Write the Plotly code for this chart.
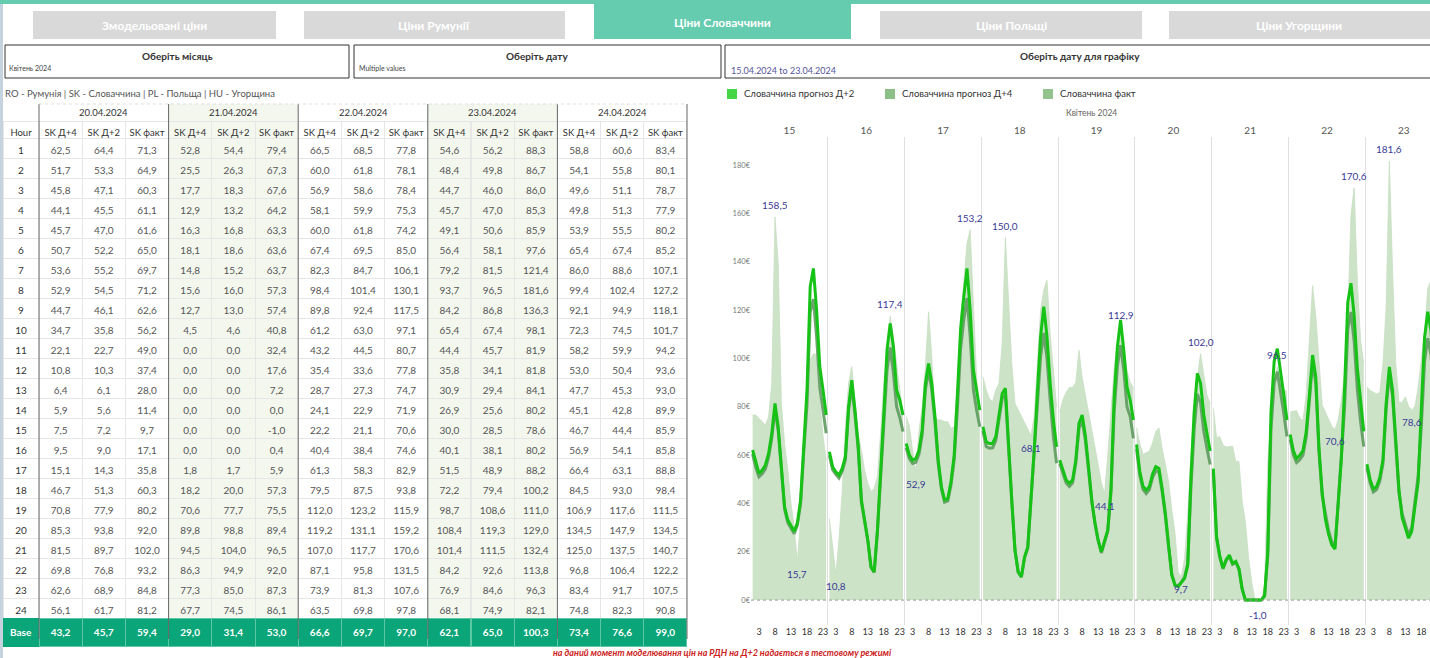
import plotly.graph_objects as go

W, H = 1430, 658
FONT = "Lato, 'Noto Sans', sans-serif"

# ---------------- data ----------------
chart_days = [15, 16, 17, 18, 19, 20, 21, 22, 23]
hours = list(range(1, 25))
x_tick_hours = [3, 8, 13, 18, 23]
y_ticks = [0, 20, 40, 60, 80, 100, 120, 140, 160, 180]

d2_15 = [62.1, 56.6, 52.4, 53.8, 55.9, 60.7, 69.0, 81.4, 71.7, 55.0, 38.6, 33.1, 30.5, 28.5, 32.0, 41.4, 64.0, 87.0, 129.7, 137.2, 120.0, 96.6, 86.9, 76.6]
d4_15 = [60.5, 54.8, 51.0, 52.3, 54.3, 59.0, 67.0, 79.0, 70.0, 53.5, 37.5, 32.0, 29.5, 27.5, 31.0, 40.0, 61.5, 81.0, 119.0, 124.5, 109.0, 88.0, 78.5, 69.0]
fact_15 = [76.6, 76.6, 75.2, 73.8, 72.4, 75.9, 89.7, 158.5, 139.3, 81.4, 64.8, 53.8, 40.0, 30.3, 15.7, 34.5, 53.8, 78.6, 99.3, 102.0, 101.4, 82.0, 68.0, 58.0]

d2_16 = [61.4, 55.2, 53.1, 51.7, 54.5, 59.3, 80.0, 91.0, 78.6, 64.0, 41.4, 33.1, 25.0, 13.8, 11.7, 28.5, 51.5, 77.0, 103.4, 114.5, 104.8, 86.9, 82.8, 76.6]
d4_16 = [60.0, 54.0, 52.0, 50.5, 53.3, 58.0, 78.5, 88.5, 76.5, 62.5, 40.5, 32.5, 24.5, 13.5, 11.5, 28.0, 50.0, 73.0, 95.0, 104.5, 94.0, 80.0, 75.5, 69.7]
fact_16 = [33.8, 23.4, 10.8, 25.0, 45.0, 72.0, 89.7, 96.6, 82.8, 69.0, 62.0, 53.8, 48.3, 44.8, 46.2, 51.0, 69.0, 89.7, 103.4, 117.4, 109.0, 96.6, 86.9, 77.2]

d2_17 = [64.8, 60.0, 57.9, 58.6, 62.0, 70.3, 89.7, 97.9, 89.7, 75.9, 58.0, 47.0, 41.5, 42.0, 49.0, 60.0, 85.0, 112.0, 125.5, 137.2, 120.0, 95.2, 86.9, 78.6]
d4_17 = [63.0, 58.5, 56.5, 57.0, 60.3, 68.5, 87.0, 95.0, 87.0, 73.5, 56.5, 46.0, 40.5, 41.0, 47.5, 58.0, 79.0, 104.0, 116.0, 125.0, 109.0, 87.0, 78.6, 71.7]
fact_17 = [76.0, 72.0, 62.0, 52.9, 70.0, 80.0, 96.6, 119.3, 100.7, 75.9, 74.5, 74.5, 73.8, 73.8, 71.0, 71.7, 89.7, 117.0, 131.0, 147.6, 153.2, 124.0, 92.4, 75.9]

d2_18 = [71.7, 65.5, 64.8, 64.8, 67.6, 75.9, 85.5, 87.6, 62.0, 41.4, 20.7, 11.7, 9.7, 17.9, 22.0, 41.4, 62.0, 86.0, 109.0, 121.4, 109.0, 89.7, 74.5, 63.4]
d4_18 = [70.0, 63.5, 62.8, 63.0, 66.0, 74.0, 83.5, 85.0, 60.5, 40.5, 20.5, 11.5, 9.5, 17.5, 21.5, 40.5, 60.0, 80.0, 100.7, 110.5, 100.0, 82.8, 67.6, 56.6]
fact_18 = [92.4, 86.9, 83.4, 82.0, 86.9, 89.7, 106.2, 150.0, 124.0, 97.9, 81.4, 78.6, 75.9, 73.1, 70.3, 68.1, 75.9, 96.6, 120.0, 128.3, 132.4, 110.3, 95.0, 80.0]

d2_19 = [57.9, 53.8, 49.7, 48.3, 49.7, 57.9, 73.1, 76.6, 68.0, 55.0, 41.4, 32.0, 24.8, 20.0, 24.8, 29.0, 46.0, 84.0, 104.8, 115.9, 103.4, 88.3, 82.8, 74.5]
d4_19 = [56.5, 52.5, 48.5, 47.0, 48.5, 56.5, 71.0, 74.5, 66.0, 53.5, 40.5, 31.5, 24.5, 19.5, 24.0, 28.5, 44.5, 78.0, 96.6, 105.5, 95.0, 80.0, 75.9, 66.9]
fact_19 = [78.0, 83.0, 86.0, 88.0, 88.0, 90.0, 103.4, 92.0, 84.8, 78.0, 70.0, 63.0, 56.0, 48.5, 44.1, 60.0, 80.0, 96.0, 106.0, 112.9, 104.0, 95.0, 90.0, 88.0]

d4_20 = [62.5, 51.7, 45.8, 44.1, 45.7, 50.7, 53.6, 52.9, 44.7, 34.7, 22.1, 10.8, 6.4, 5.9, 7.5, 9.5, 15.1, 46.7, 70.8, 85.3, 81.5, 69.8, 62.6, 56.1]
d2_20 = [64.4, 53.3, 47.1, 45.5, 47.0, 52.2, 55.2, 54.5, 46.1, 35.8, 22.7, 10.3, 6.1, 5.6, 7.2, 9.0, 14.3, 51.3, 77.9, 93.8, 89.7, 76.8, 68.9, 61.7]
fact_20 = [71.3, 64.9, 60.3, 61.1, 61.6, 65.0, 69.7, 71.2, 62.6, 56.2, 49.0, 37.4, 28.0, 11.4, 9.7, 17.1, 35.8, 60.3, 80.2, 92.0, 102.0, 93.2, 84.8, 81.2]
base_20 = [43.2, 45.7, 59.4]

d4_21 = [52.8, 25.5, 17.7, 12.9, 16.3, 18.1, 14.8, 15.6, 12.7, 4.5, 0.0, 0.0, 0.0, 0.0, 0.0, 0.0, 1.8, 18.2, 70.6, 89.8, 94.5, 86.3, 77.3, 67.7]
d2_21 = [54.4, 26.3, 18.3, 13.2, 16.8, 18.6, 15.2, 16.0, 13.0, 4.6, 0.0, 0.0, 0.0, 0.0, 0.0, 0.0, 1.7, 20.0, 77.7, 98.8, 104.0, 94.9, 85.0, 74.5]
fact_21 = [79.4, 67.3, 67.6, 64.2, 63.3, 63.6, 63.7, 57.3, 57.4, 40.8, 32.4, 17.6, 7.2, 0.0, -1.0, 0.4, 5.9, 57.3, 75.5, 89.4, 96.5, 92.0, 87.3, 86.1]
base_21 = [29.0, 31.4, 53.0]

d4_22 = [66.5, 60.0, 56.9, 58.1, 60.0, 67.4, 82.3, 98.4, 89.8, 61.2, 43.2, 35.4, 28.7, 24.1, 22.2, 40.4, 61.3, 79.5, 112.0, 119.2, 107.0, 87.1, 73.9, 63.5]
d2_22 = [68.5, 61.8, 58.6, 59.9, 61.8, 69.5, 84.7, 101.4, 92.4, 63.0, 44.5, 33.6, 27.3, 22.9, 21.1, 38.4, 58.3, 87.5, 123.2, 131.1, 117.7, 95.8, 81.3, 69.8]
fact_22 = [77.8, 78.1, 78.4, 75.3, 74.2, 85.0, 106.1, 130.1, 117.5, 97.1, 80.7, 77.8, 74.7, 71.9, 70.6, 74.6, 82.9, 93.8, 115.9, 159.2, 170.6, 131.5, 107.6, 97.8]
base_22 = [66.6, 69.7, 97.0]

d4_23 = [54.6, 48.4, 44.7, 45.7, 49.1, 56.4, 79.2, 93.7, 84.2, 65.4, 44.4, 35.8, 30.9, 26.9, 30.0, 40.1, 51.5, 72.2, 98.7, 108.4, 101.4, 84.2, 76.9, 68.1]
d2_23 = [56.2, 49.8, 46.0, 47.0, 50.6, 58.1, 81.5, 96.5, 86.8, 67.4, 45.7, 34.1, 29.4, 25.6, 28.5, 38.1, 48.9, 79.4, 108.6, 119.3, 111.5, 92.6, 84.6, 74.9]
fact_23 = [88.3, 86.7, 86.0, 85.3, 85.9, 97.6, 121.4, 181.6, 136.3, 98.1, 81.9, 81.8, 84.1, 80.2, 78.6, 80.2, 88.2, 100.2, 111.0, 129.0, 132.4, 113.8, 96.3, 82.1]
base_23 = [62.1, 65.0, 100.3]

d4_24 = [58.8, 54.1, 49.6, 49.8, 53.9, 65.4, 86.0, 99.4, 92.1, 72.3, 58.2, 53.0, 47.7, 45.1, 46.7, 56.9, 66.4, 84.5, 106.9, 134.5, 125.0, 96.8, 83.4, 74.8]
d2_24 = [60.6, 55.8, 51.1, 51.3, 55.5, 67.4, 88.6, 102.4, 94.9, 74.5, 59.9, 50.4, 45.3, 42.8, 44.4, 54.1, 63.1, 93.0, 117.6, 147.9, 137.5, 106.4, 91.7, 82.3]
fact_24 = [83.4, 80.1, 78.7, 77.9, 80.2, 85.2, 107.1, 127.2, 118.1, 101.7, 94.2, 93.6, 93.0, 89.9, 85.9, 85.8, 88.8, 98.4, 111.5, 134.5, 140.7, 122.2, 107.5, 90.8]
base_24 = [73.4, 76.6, 99.0]

table_dates = ["20.04.2024", "21.04.2024", "22.04.2024", "23.04.2024", "24.04.2024"]
col_names = ["SK Д+4", "SK Д+2", "SK факт"]

tab_labels = ["Змодельовані ціни", "Ціни Румунії", "Ціни Словаччини", "Ціни Польщі", "Ціни Угорщини"]
legend_labels = ["Словаччина прогноз Д+2", "Словаччина прогноз Д+4", "Словаччина факт"]

# ---------------- helpers ----------------
C_D2 = "#16c216"
C_D4 = "#5f9c5f"
C_FACT = "#cde3c8"
C_LABEL = "#3a3a96"
C_TEAL = "#66ccb0"


def fmt(v):
    return f"{v:.1f}".replace(".", ",")


def px(x):
    return x / W


def py(y):
    return 1 - y / H


shapes = []
annotations = []


def rect(x0, y0, x1, y1, fill=None, line=None, lw=1):
    shapes.append(dict(type="rect", xref="paper", yref="paper",
                       x0=px(x0), x1=px(x1), y0=py(y1), y1=py(y0),
                       fillcolor=fill or "rgba(0,0,0,0)",
                       line=dict(color=line or "rgba(0,0,0,0)", width=lw if line else 0)))


def vline(x, y0, y1, color, lw=1):
    shapes.append(dict(type="line", xref="paper", yref="paper",
                       x0=px(x), x1=px(x), y0=py(y1), y1=py(y0),
                       line=dict(color=color, width=lw)))


def text(x, y, s, size=10, color="#333", xanchor="center", family=FONT):
    annotations.append(dict(xref="paper", yref="paper", x=px(x), y=py(y), text=s,
                            showarrow=False, xanchor=xanchor, yanchor="middle",
                            font=dict(size=size, color=color, family=family)))


fig = go.Figure()

# ---------------- chart ----------------
d2_by_day = [d2_15, d2_16, d2_17, d2_18, d2_19, d2_20, d2_21, d2_22, d2_23]
d4_by_day = [d4_15, d4_16, d4_17, d4_18, d4_19, d4_20, d4_21, d4_22, d4_23]
fact_by_day = [fact_15, fact_16, fact_17, fact_18, fact_19, fact_20, fact_21, fact_22, fact_23]

for i in range(len(chart_days)):
    xd = [i * 24 + h for h in hours]
    fig.add_trace(go.Scatter(x=xd, y=fact_by_day[i], mode="lines", fill="tozeroy",
                             fillcolor=C_FACT, line=dict(color="#c6dec1", width=0.8),
                             name=legend_labels[2], showlegend=False, hoverinfo="skip"))

xs, y2, y4 = [], [], []
for i in range(len(chart_days)):
    xs += [i * 24 + h for h in hours] + [None]
    y2 += d2_by_day[i] + [None]
    y4 += d4_by_day[i] + [None]

fig.add_trace(go.Scatter(x=xs, y=y4, mode="lines", line=dict(color=C_D4, width=3),
                         opacity=0.9, connectgaps=False, name=legend_labels[1],
                         showlegend=False, hoverinfo="skip"))
fig.add_trace(go.Scatter(x=xs, y=y2, mode="lines", line=dict(color=C_D2, width=3),
                         connectgaps=False, name=legend_labels[0], showlegend=False,
                         hoverinfo="skip"))
fig.add_trace(go.Scatter(x=[0.5], y=[None], xaxis="x2", showlegend=False, hoverinfo="skip"))

for i, f in enumerate(fact_by_day):
    imax = max(range(24), key=lambda k: f[k])
    imin = min(range(24), key=lambda k: f[k])
    for idx, shift in ((imax, 12), (imin, -12)):
        annotations.append(dict(xref="x", yref="y", x=i * 24 + hours[idx], y=f[idx],
                                text=fmt(f[idx]), showarrow=False, yshift=shift,
                                font=dict(size=10, color=C_LABEL, family=FONT)))

shapes.append(dict(type="line", xref="x domain", yref="y", x0=0, x1=1, y0=0, y1=0,
                   line=dict(color="#999999", width=1, dash="dot")))

# ---------------- table ----------------
groups = [
    (d4_20, d2_20, fact_20, base_20),
    (d4_21, d2_21, fact_21, base_21),
    (d4_22, d2_22, fact_22, base_22),
    (d4_23, d2_23, fact_23, base_23),
    (d4_24, d2_24, fact_24, base_24),
]
group_fill = ["#ffffff", "#f3f7ee", "#ffffff", "#f3f7ee", "#ffffff"]
BASE_GREEN = "#0aa578"
NB = "\u00a0"

hdr_vals = [["", "Hour"]]
cell_vals = [[str(h) for h in hours] + ["<b>Base</b>"]]
hdr_fill = [["#ffffff", "#ffffff"]]
cell_fill = [["#ffffff"] * 24 + [BASE_GREEN]]
cell_font = [["#333333"] * 24 + ["#ffffff"]]
cell_line = [["#e6e6e6"] * 24 + [BASE_GREEN]]
hdr_line = [["#ffffff", "#e6e6e6"]]
for g, (a, b, c, base) in enumerate(groups):
    for k, series in enumerate((a, b, c)):
        hdr_vals.append(["", col_names[k].replace(" ", NB)])
        cell_vals.append([fmt(v) for v in series] + [f"<b>{fmt(base[k])}</b>"])
        hdr_fill.append([group_fill[g]] * 2)
        cell_fill.append([group_fill[g]] * 24 + [BASE_GREEN])
        cell_font.append(["#555555"] * 24 + ["#ffffff"])
        cell_line.append(["#e6e6e6"] * 24 + ["#5cc7a3"])
        hdr_line.append([group_fill[g], "#e6e6e6"])

TBL_X0, TBL_X1, HOUR_W = 3, 687, 36
TBL_TOP = 104
TBL_BOTTOM = 639
col_w = (TBL_X1 - TBL_X0 - HOUR_W) / 15
fig.add_trace(go.Table(
    domain=dict(x=[px(TBL_X0), px(TBL_X1)], y=[0, py(TBL_TOP)]),
    columnwidth=[HOUR_W] + [col_w] * 15,
    header=dict(values=hdr_vals, height=17, align="center",
                fill=dict(color=hdr_fill), line=dict(color=hdr_line, width=1),
                font=dict(size=9.5, color="#333333", family=FONT)),
    cells=dict(values=cell_vals, height=20, align="center",
               fill=dict(color=cell_fill), line=dict(color=cell_line, width=1),
               font=dict(size=10, color=cell_font, family=FONT)),
))

# merged date headers and group separators of the table
for g, d in enumerate(table_dates):
    text(TBL_X0 + HOUR_W + (g + 0.5) * 3 * col_w, 112.5, d, size=9.5, color="#333")
for g in range(6):
    vline(TBL_X0 + HOUR_W + g * 3 * col_w, TBL_TOP, TBL_BOTTOM, "#666666", 1)
shapes.append(dict(type="line", xref="paper", yref="paper", x0=px(TBL_X0 + HOUR_W), x1=px(TBL_X1),
                   y0=py(TBL_TOP), y1=py(TBL_TOP), line=dict(color="#dddddd", width=1, dash="dot")))

# ---------------- page furniture ----------------
rect(0, 0, 3, 658, fill="#c5d3df")
rect(0, 0, W + 2, 4, fill=C_TEAL)
tab_boxes = [(33, 11, 276, 39), (304, 11, 565, 39), (594, 0, 851, 39), (880, 11, 1142, 39), (1169, 11, 1432, 39)]
for i, (x0, y0, x1, y1) in enumerate(tab_boxes):
    active = i == 2
    rect(x0, y0, x1, y1, fill=C_TEAL if active else "#d9d9d9")
    text((x0 + x1) / 2 if i < 4 else 1299, 22 if active else 26, f"<b>{tab_labels[i]}</b>",
         size=12, color="#ffffff")

rect(5, 45, 349, 78, line="#333333", lw=1)
rect(354, 45, 721, 78, line="#333333", lw=1)
rect(725, 45, 1434, 78, line="#333333", lw=1)
text(177, 56, "<b>Оберіть місяць</b>", size=10, color="#333")
text(7, 68, "Квітень 2024", size=7, color="#444", xanchor="left")
text(537, 56, "<b>Оберіть дату</b>", size=10, color="#333")
text(357, 68, "Multiple values", size=7, color="#444", xanchor="left")
text(1080, 56, "<b>Оберіть дату для графіку</b>", size=10, color="#333")
text(729, 70, "15.04.2024 to 23.04.2024", size=9, color="#55559a", xanchor="left")

text(3, 94, "RO - Румунія | SK - Словаччина | PL - Польща | HU - Угорщина", size=9.5,
     color="#555", xanchor="left")

legend_colors = ["#45d645", "#8cbf86", "#93c48d"]
for i, lx in enumerate([727, 885, 1043]):
    rect(lx, 89, lx + 10, 99, fill=legend_colors[i])
    text(lx + 15, 94, legend_labels[i], size=9.5, color="#333", xanchor="left")

text(1091, 113, "Квітень 2024", size=8.5, color="#666")
text(722, 652, "<b><i>на даний момент моделювання цін на РДН на Д+2 надається в тестовому режимі</i></b>",
     size=9, color="#cc2222")

# ---------------- layout ----------------
X_LEFT = 751
fig.update_layout(
    width=W, height=H, margin=dict(l=0, r=0, t=0, b=0),
    paper_bgcolor="#ffffff", plot_bgcolor="#ffffff", showlegend=False,
    font=dict(family=FONT),
    xaxis=dict(domain=[px(X_LEFT), 1], range=[0.5, 212.7], tickmode="array",
               tickvals=[i * 24 + h for i in range(len(chart_days)) for h in x_tick_hours],
               ticktext=[str(h) for i in range(len(chart_days)) for h in x_tick_hours],
               showgrid=False, zeroline=False, showline=False, ticks="",
               tickfont=dict(size=9, color="#333"), fixedrange=True,
               minor=dict(tickmode="array", tickvals=[i * 24 + 0.5 for i in range(len(chart_days))],
                          showgrid=True, gridcolor="#e0e0e0", gridwidth=1, ticks="")),
    xaxis2=dict(overlaying="x", side="top", anchor="y", range=[0.5, 212.7], tickmode="array",
                tickvals=[i * 24 + 12.5 for i in range(len(chart_days))],
                ticktext=[str(d) for d in chart_days], showgrid=False, zeroline=False,
                showline=False, ticks="", tickfont=dict(size=10, color="#555"), fixedrange=True),
    yaxis=dict(domain=[py(625), py(137)], range=[-10.3, 191.6], tickmode="array",
               tickvals=y_ticks, ticktext=[f"{v}€" for v in y_ticks], showgrid=False,
               zeroline=False, showline=False, ticks="", tickfont=dict(size=7.5, color="#777"),
               fixedrange=True),
    shapes=shapes, annotations=annotations,
)

fig.write_html("out.html", config={"displayModeBar": False},
               post_script="document.body.style.margin='0';document.body.style.overflow='hidden';")
